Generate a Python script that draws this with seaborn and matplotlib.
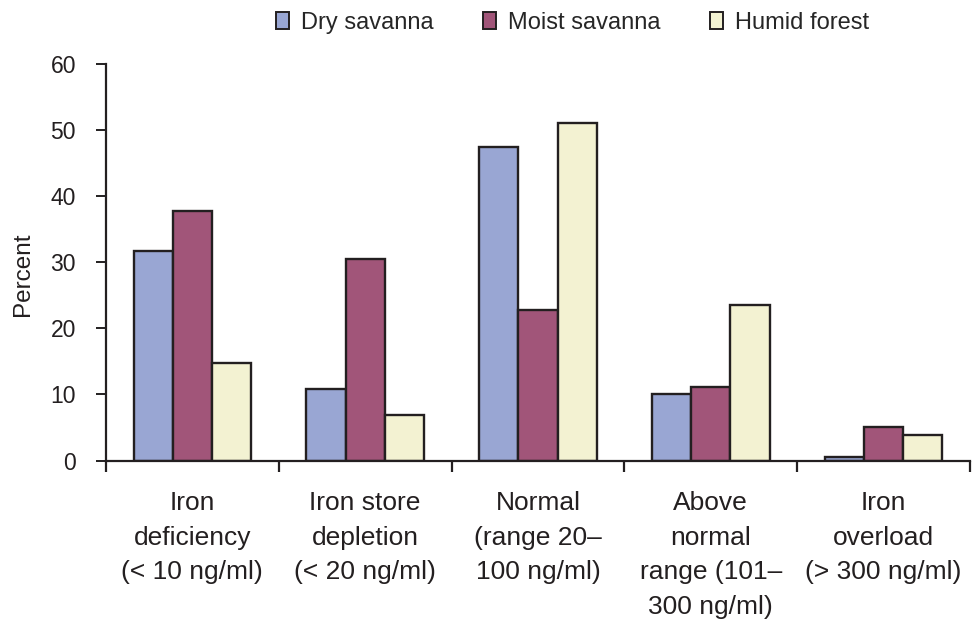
import numpy as np
import pandas as pd
import matplotlib
matplotlib.use('Agg')
import matplotlib.pyplot as plt
import seaborn as sns

# data
categories = ['Iron\ndeficiency\n(< 10 ng/ml)',
              'Iron store\ndepletion\n(< 20 ng/ml)',
              'Normal\n(range 20\u2013\n100 ng/ml)',
              'Above\nnormal\nrange (101\u2013\n300 ng/ml)',
              'Iron\noverload\n(> 300 ng/ml)']
series = ['Dry savanna', 'Moist savanna', 'Humid forest']
dry_savanna = [31.7, 10.9, 47.4, 10.0, 0.6]
moist_savanna = [37.8, 30.5, 22.7, 11.2, 5.1]
humid_forest = [14.8, 6.9, 51.1, 23.6, 3.9]
colors = ['#99a6d3', '#a15579', '#f3f2d2']

df = pd.DataFrame({
    'category': categories * 3,
    'zone': np.repeat(series, len(categories)),
    'percent': dry_savanna + moist_savanna + humid_forest,
})

sns.set_style('white')
plt.rcParams['font.family'] = ['Liberation Sans', 'DejaVu Sans']
ink = '#231f20'

fig = plt.figure(figsize=(9.72, 6.25), dpi=100)
ax = fig.add_axes([0.109, 0.263, 0.889, 0.635])

sns.barplot(data=df, x='category', y='percent', hue='zone',
            order=categories, hue_order=series, palette=colors,
            width=0.68, gap=0, edgecolor=ink, linewidth=1.7,
            saturation=1, ax=ax)

ax.set_xlim(-0.5, len(categories) - 0.5)
ax.set_ylim(0, 60)
ax.set_yticks(range(0, 61, 10))
ax.set_xlabel('')
ax.set_ylabel('Percent', fontsize=17.5, color=ink)
ax.yaxis.set_label_coords(-0.083, 0.47)

# boundary ticks between groups, labels centred without marks
ax.set_xticks(np.arange(-0.5, len(categories), 1.0), minor=True)
ax.tick_params(axis='x', which='major', bottom=True, length=0, pad=22, labelsize=19,
               colors=ink)
ax.tick_params(axis='x', which='minor', bottom=True, length=8, width=1.6,
               direction='out', color=ink)
ax.tick_params(axis='y', left=True, length=7.5, width=1.4, direction='out', pad=14,
               labelsize=16.5, colors=ink)
for lbl in ax.get_xticklabels():
    lbl.set_linespacing(1.55)

sns.despine(ax=ax)
for side in ['left', 'bottom']:
    ax.spines[side].set_color(ink)
    ax.spines[side].set_linewidth(1.6)

leg = ax.legend(loc='center', bbox_to_anchor=(0.54, 1.103), ncol=3, frameon=False,
                fontsize=17, handlelength=0.55, handleheight=0.75, handletextpad=0.5,
                columnspacing=2.1)
for h in leg.legend_handles:
    h.set_edgecolor(ink)
    h.set_linewidth(1.4)

fig.savefig('out.png', dpi=100)
